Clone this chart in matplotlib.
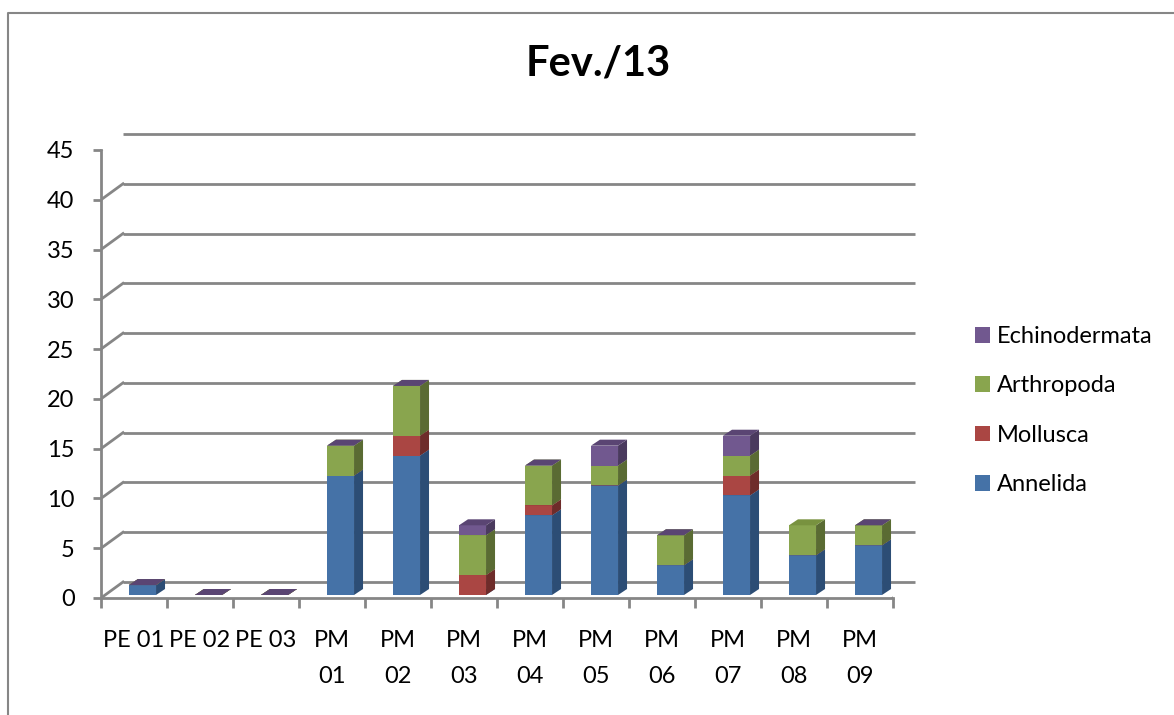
import numpy as np
import matplotlib
matplotlib.use("Agg")
import matplotlib.pyplot as plt
from matplotlib.transforms import Affine2D
from matplotlib.patches import Polygon, Patch
from matplotlib.lines import Line2D

plt.rcParams['font.family'] = ['Lato', 'DejaVu Sans']

# --- data -------------------------------------------------------------
stations = ["PE 01", "PE 02", "PE 03", "PM\n01", "PM\n02", "PM\n03",
            "PM\n04", "PM\n05", "PM\n06", "PM\n07", "PM\n08", "PM\n09"]
annelida = [1, 0, 0, 12, 14, 0, 8, 11, 3, 10, 4, 5]
mollusca = [0, 0, 0, 0, 2, 2, 1, 0, 0, 2, 0, 0]
arthropoda = [0, 0, 0, 3, 5, 4, 4, 2, 3, 2, 3, 2]
echinodermata = [0, 0, 0, 0, 0, 1, 0, 2, 0, 2, np.nan, 0]
groups = ["Annelida", "Mollusca", "Arthropoda", "Echinodermata"]
yticks = [0, 5, 10, 15, 20, 25, 30, 35, 40, 45]

# --- styling ----------------------------------------------------------
front_col = ["#4572A7", "#AA4643", "#89A54E", "#71588F"]
side_col = ["#2C4D75", "#6E2C2A", "#5A6B33", "#4A3A5E"]
top_col = ["#3B6293", "#943B38", "#78923F", "#5A4573"]
grey = "#868686"
FS = 17

W, H, DPI = 1174, 715, 100
fig = plt.figure(figsize=(W / DPI, H / DPI), dpi=DPI)

# front plane of the plot: x from 101 to 893 px, y from 598 (0) to 150 (45)
ax = fig.add_axes([101 / W, (H - 598) / H, 792 / W, 448 / H])
n = len(stations)
ax.set_xlim(-0.5, n - 0.5)
ax.set_ylim(0, 45)
ax.patch.set_visible(False)
for s in ("top", "right"):
    ax.spines[s].set_visible(False)
for s in ("left", "bottom"):
    ax.spines[s].set_color(grey)
    ax.spines[s].set_linewidth(2.0)

# pixel offsets for the pseudo-3D depth
wall_tr = ax.transData + Affine2D().translate(22, 16)
bar_tr = ax.transData + Affine2D().translate(8.5, 3)

# back wall gridlines and side-wall diagonals
ax.hlines(yticks, -0.5, n - 0.5, colors=grey, lw=2.0, transform=wall_tr,
          zorder=1, clip_on=False)
for y in yticks:
    p0 = ax.transData.transform((-0.5, y))
    ax.add_line(Line2D([p0[0], p0[0] + 22], [p0[1], p0[1] + 16],
                       transform=None, color=grey, lw=2.0, zorder=1))
# right edge of the floor
p0 = ax.transData.transform((n - 0.5, 0))
ax.add_line(Line2D([p0[0], p0[0] + 22], [p0[1], p0[1] + 16],
                   transform=None, color=grey, lw=2.0, zorder=1))

# stacked columns with side and top faces
width = 0.41
x = np.arange(n)
series = [annelida, mollusca, arthropoda, echinodermata]
inv = ax.transData.inverted()
o = ax.transData.transform((0, 0))
ddx, ddy = inv.transform(o + np.array([9, 6])) - inv.transform(o)

base = np.zeros(n)
for k, vals in enumerate(series):
    vals = np.asarray(vals, dtype=float)
    ax.bar(x, np.nan_to_num(vals), width=width, bottom=base,
           color=front_col[k], transform=bar_tr, zorder=3,
           edgecolor="none", clip_on=False)
    for i in range(n):
        if np.isnan(vals[i]):
            continue
        xl, xr = x[i] - width / 2, x[i] + width / 2
        y0, y1 = base[i], base[i] + vals[i]
        side = Polygon([(xr, y0), (xr + ddx, y0 + ddy), (xr + ddx, y1 + ddy), (xr, y1)],
                       closed=True, facecolor=side_col[k], edgecolor="none",
                       transform=bar_tr, zorder=3, clip_on=False)
        top = Polygon([(xl, y1), (xr, y1), (xr + ddx, y1 + ddy), (xl + ddx, y1 + ddy)],
                      closed=True, facecolor=top_col[k], edgecolor="none",
                      transform=bar_tr, zorder=3, clip_on=False)
        ax.add_patch(side)
        ax.add_patch(top)
    base = base + np.nan_to_num(vals)

# axes ticks and labels
ax.set_yticks(yticks)
ax.set_yticklabels([str(v) for v in yticks], fontsize=FS)
ax.tick_params(axis="y", length=6, width=2.0, color=grey, pad=13)
ax.set_xticks(x)
ax.set_xticklabels(stations, fontsize=FS, linespacing=1.9)
ax.set_xticks(np.arange(-0.5, n), minor=True)
ax.tick_params(axis="x", which="major", length=0, pad=23)
ax.tick_params(axis="x", which="minor", length=7, width=2.0, color=grey)

# legend
handles = [Patch(facecolor=front_col[k], edgecolor="none") for k in range(4)][::-1]
fig.legend(handles, groups[::-1], loc="center left",
           bbox_to_anchor=(975 / W, (H - 410.5) / H), frameon=False,
           fontsize=FS, handlelength=0.64, handleheight=0.64,
           handletextpad=0.3, labelspacing=1.2, borderpad=0, borderaxespad=0)

# title
fig.text(598 / W, 1 - 63 / H, "Fev./13", ha="center", va="center",
         fontsize=30, fontweight="bold")

# chart area border
fig.add_artist(Line2D([8 / W, 8 / W, 1.0], [0.0, 1 - 13 / H, 1 - 13 / H],
                      transform=fig.transFigure, color=grey, lw=1.5))

fig.savefig("out.png", dpi=DPI)
